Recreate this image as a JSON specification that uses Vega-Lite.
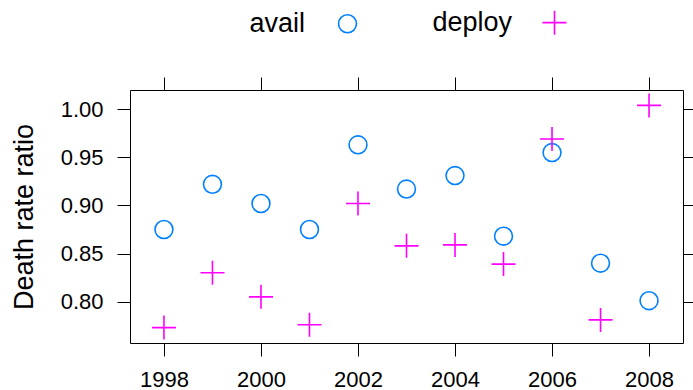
{
  "$schema": "https://vega.github.io/schema/vega-lite/v6.json",
  "width": 553,
  "height": 253,
  "autosize": {"type": "none"},
  "padding": {"left": 130, "top": 90, "right": 10, "bottom": 47},
  "background": "white",
  "config": {
    "font": "Liberation Sans",
    "view": {"stroke": "black", "strokeWidth": 1},
    "axis": {
      "grid": false,
      "domain": false,
      "tickColor": "black",
      "tickWidth": 1,
      "tickSize": 13,
      "labelColor": "black",
      "labelFontSize": 22,
      "labelFont": "Liberation Sans",
      "titleFont": "Liberation Sans",
      "titleFontWeight": "normal",
      "titleColor": "black"
    },
    "legend": {
      "orient": "none",
      "legendX": 204,
      "legendY": -81,
      "direction": "horizontal",
      "labelFontSize": 27,
      "labelFont": "Liberation Sans",
      "labelColor": "black",
      "labelAlign": "right",
      "labelOffset": -56,
      "columnPadding": 72,
      "symbolStrokeWidth": 1.6
    }
  },
  "data": {
    "values": [
      {"year": 1998, "series": "avail", "ratio": 0.875},
      {"year": 1999, "series": "avail", "ratio": 0.922},
      {"year": 2000, "series": "avail", "ratio": 0.902},
      {"year": 2001, "series": "avail", "ratio": 0.875},
      {"year": 2002, "series": "avail", "ratio": 0.963},
      {"year": 2003, "series": "avail", "ratio": 0.917},
      {"year": 2004, "series": "avail", "ratio": 0.931},
      {"year": 2005, "series": "avail", "ratio": 0.868},
      {"year": 2006, "series": "avail", "ratio": 0.955},
      {"year": 2007, "series": "avail", "ratio": 0.840},
      {"year": 2008, "series": "avail", "ratio": 0.801},
      {"year": 1998, "series": "deploy", "ratio": 0.773},
      {"year": 1999, "series": "deploy", "ratio": 0.830},
      {"year": 2000, "series": "deploy", "ratio": 0.805},
      {"year": 2001, "series": "deploy", "ratio": 0.776},
      {"year": 2002, "series": "deploy", "ratio": 0.902},
      {"year": 2003, "series": "deploy", "ratio": 0.858},
      {"year": 2004, "series": "deploy", "ratio": 0.859},
      {"year": 2005, "series": "deploy", "ratio": 0.839},
      {"year": 2006, "series": "deploy", "ratio": 0.969},
      {"year": 2007, "series": "deploy", "ratio": 0.781},
      {"year": 2008, "series": "deploy", "ratio": 1.004}
    ]
  },
  "layer": [
    {
      "mark": {"type": "point", "filled": false, "strokeWidth": 1.6, "opacity": 1},
      "encoding": {
        "x": {
          "field": "year", "type": "quantitative",
          "scale": {"domain": [1997.3, 2008.7], "nice": false, "zero": false},
          "axis": {"orient": "bottom", "title": null, "values": [1998, 2000, 2002, 2004, 2006, 2008], "format": "d", "labelPadding": 13, "labelFlush": false}
        },
        "y": {
          "field": "ratio", "type": "quantitative",
          "scale": {"domain": [0.757, 1.02], "nice": false, "zero": false},
          "axis": {"orient": "left", "title": "Death rate ratio", "titleFontSize": 27, "titlePadding": 22, "values": [0.8, 0.85, 0.9, 0.95, 1.0], "format": ".2f", "labelPadding": 14}
        },
        "stroke": {
          "field": "series", "type": "nominal",
          "scale": {"domain": ["avail", "deploy"], "range": ["#0080ff", "#ff00ff"]},
          "legend": {"title": null}
        },
        "shape": {
          "field": "series", "type": "nominal",
          "scale": {"domain": ["avail", "deploy"], "range": ["circle", "M-1,0H1M0,-1V1"]},
          "legend": {"title": null}
        },
        "size": {
          "field": "series", "type": "nominal",
          "scale": {"domain": ["avail", "deploy"], "range": [320, 576]},
          "legend": {"title": null}
        }
      }
    },
    {
      "mark": {"type": "point", "opacity": 0},
      "encoding": {
        "x": {
          "field": "year", "type": "quantitative",
          "axis": {"orient": "top", "title": null, "labels": false, "values": [1998, 2000, 2002, 2004, 2006, 2008]}
        },
        "y": {
          "field": "ratio", "type": "quantitative",
          "axis": {"orient": "right", "title": null, "labels": false, "values": [0.8, 0.85, 0.9, 0.95, 1.0]}
        }
      }
    }
  ],
  "resolve": {"axis": {"x": "independent", "y": "independent"}}
}
